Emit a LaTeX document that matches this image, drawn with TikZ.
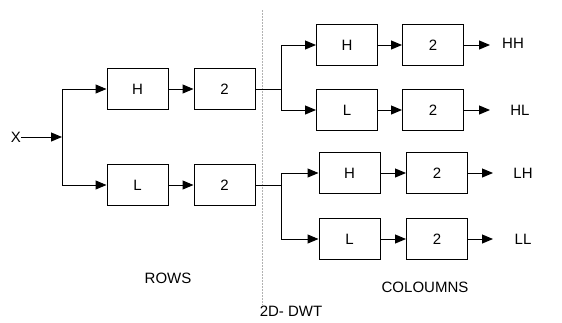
\documentclass[tikz,border=0pt]{standalone}
\usepackage{fontspec}
\setmainfont{Liberation Sans}
\usetikzlibrary{arrows.meta}
\tikzset{
  blk/.style={draw, line width=1pt, minimum width=61pt, minimum height=41pt, inner sep=0pt, font=\fontsize{15}{15}\selectfont},
  lbl/.style={inner sep=0pt, font=\fontsize{15}{15}\selectfont},
  conn/.style={line width=1pt},
  arr/.style={conn, -{Triangle[length=11pt, width=9pt]}}
}
\begin{document}
\begin{tikzpicture}[x=1pt,y=-1pt]
\useasboundingbox (0,0) rectangle (562,322);
% left stage
\node[lbl] (x) at (16,137) {X};
\coordinate (s1) at (62,137);
\node[blk] (h1) at (137.5,89) {H};
\node[blk] (d1) at (224.5,89) {2};
\node[blk] (l1) at (137.5,185) {L};
\node[blk] (d2) at (224.5,185) {2};
\draw[arr] (x.east) -- (s1);
\draw[arr] (s1) |- (h1.west);
\draw[arr] (s1) |- (l1.west);
\draw[arr] (h1) -- (d1);
\draw[arr] (l1) -- (d2);
% divider
\coordinate (dv1) at (262,10);
\coordinate (dv2) at (262,305);
\draw[gray!60, line width=0.8pt, dash pattern=on 2pt off 1pt] (dv1) -- (dv2);
\node[lbl] (rows) at (168,278) {ROWS};
\node[lbl] (dwt) at (291,311) {2D- DWT};
\node[lbl] (cols) at (425,287) {COLOUMNS};
% right stage, upper
\coordinate (b1) at (281,89);
\node[blk] (hh1) at (347,45) {H};
\node[blk] (hh2) at (433,45) {2};
\node[blk] (hl1) at (347,110) {L};
\node[blk] (hl2) at (433,110) {2};
\draw[conn] (d1.east) -- (b1);
\draw[arr] (b1) |- (hh1.west);
\draw[arr] (b1) |- (hl1.west);
\draw[arr] (hh1) -- (hh2);
\draw[arr] (hl1) -- (hl2);
\coordinate (ohh) at (490,45);
\coordinate (ohl) at (490,110);
\draw[arr] (hh2.east) -- (ohh);
\draw[arr] (hl2.east) -- (ohl);
\node[lbl] (thh) at (513,43) {HH};
\node[lbl] (thl) at (520,110) {HL};
% right stage, lower
\coordinate (b2) at (281,185);
\node[blk] (lh1) at (349.5,173) {H};
\node[blk] (lh2) at (437,173) {2};
\node[blk] (ll1) at (349.5,239) {L};
\node[blk] (ll2) at (437,239) {2};
\draw[conn] (d2.east) -- (b2);
\draw[arr] (b2) |- (lh1.west);
\draw[arr] (b2) |- (ll1.west);
\draw[arr] (lh1) -- (lh2);
\draw[arr] (ll1) -- (ll2);
\coordinate (olh) at (493,173);
\coordinate (oll) at (493,239);
\draw[arr] (lh2.east) -- (olh);
\draw[arr] (ll2.east) -- (oll);
\node[lbl] (tlh) at (523,173) {LH};
\node[lbl] (tll) at (523,239) {LL};
\end{tikzpicture}
\end{document}
